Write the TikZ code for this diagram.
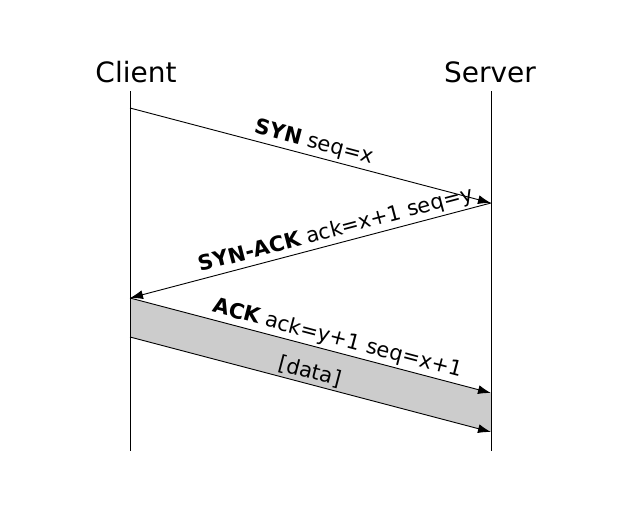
\documentclass[tikz,border=0pt]{standalone}
\usepackage{fontspec}
\setmainfont{DejaVu Sans}
\usetikzlibrary{arrows.meta}

\tikzset{
  msg/.style={-{Latex[length=13pt,width=9pt]}, line width=0.9pt},
  life/.style={line width=0.9pt},
  lbl/.style={above, sloped, inner sep=2.5pt, font=\fontsize{21}{25}\selectfont},
  actor/.style={font=\fontsize{28}{33}\selectfont, anchor=base}
}

\begin{document}
\begin{tikzpicture}[x=1pt,y=-1pt]
\useasboundingbox (0,0) rectangle (632,511);

% actors
\node[actor] (client) at (136,82) {Client};
\node[actor] (server) at (490,82) {Server};

\coordinate (ctop) at (130,91);
\coordinate (cbot) at (130,451);
\coordinate (stop) at (491,91);
\coordinate (sbot) at (491,451);

% message end points
\coordinate (c1) at (130,108);
\coordinate (s1) at (491,203);
\coordinate (c2) at (130,298);
\coordinate (s2) at (491,393);
\coordinate (c3) at (130,337);
\coordinate (s3) at (491,432);

% data band
\fill[gray!40] (c2) -- (s2) -- (s3) -- (c3) -- cycle;

\draw[life] (ctop) -- (cbot);
\draw[life] (stop) -- (sbot);

\draw[msg] (c1) -- node[lbl, pos=0.5] {{\bfseries SYN} seq=x} (s1);
\draw[msg] (s1) -- node[lbl, pos=0.42] {{\bfseries SYN-ACK} ack=x+1 seq=y} (c2);
\draw[msg] (c2) -- node[lbl, pos=0.565] {{\bfseries ACK} ack=y+1 seq=x+1} (s2);
\draw[msg] (c3) -- node[lbl, pos=0.49] {[data]} (s3);

\end{tikzpicture}
\end{document}
